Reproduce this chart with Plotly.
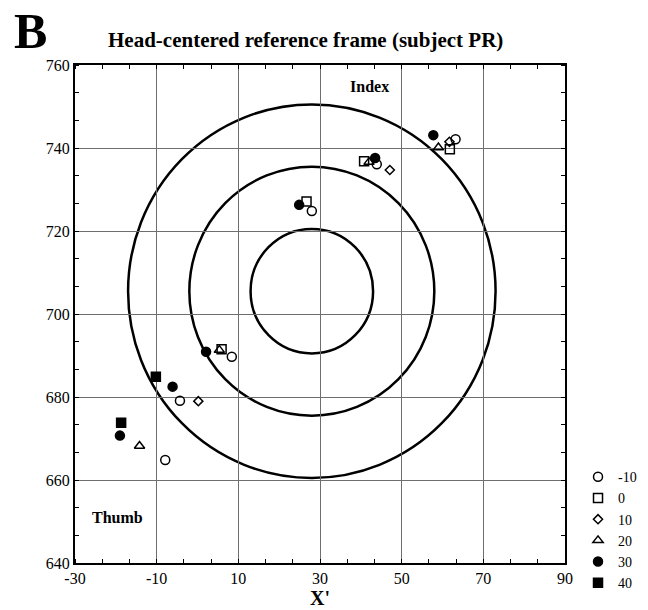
import plotly.graph_objects as go

# Finger-tip positions in the head-centred frame, one series per condition
conditions = ["-10", "0", "10", "20", "30", "40"]
symbols = ["circle-open", "square-open", "diamond-open", "triangle-up-open", "circle", "square"]
sizes = [9, 9, 7, 9, 9, 9]

x_m10 = [63.2, 43.9, 28.0, 8.4, -4.3, -7.9]
y_m10 = [742.1, 736.1, 724.8, 689.7, 679.1, 664.8]
x_0 = [61.8, 40.8, 26.7, 5.9]
y_0 = [739.7, 736.8, 727.1, 691.5]
x_10 = [61.7, 47.1, 0.2]
y_10 = [741.5, 734.7, 679.0]
x_20 = [59.0, 42.0, 5.35, -14.2]
y_20 = [740.1, 736.6, 691.3, 668.2]
x_30 = [57.75, 43.5, 24.9, 2.1, -6.1, -19.0]
y_30 = [743.1, 737.6, 726.3, 690.9, 682.5, 670.7]
x_40 = [-10.2, -18.7]
y_40 = [684.9, 673.8]

xs = [x_m10, x_0, x_10, x_20, x_30, x_40]
ys = [y_m10, y_0, y_10, y_20, y_30, y_40]

# Concentric reference circles
circle_center = (28.0, 705.5)
circle_radii = [15, 30, 45]

x_ticks = [-30, -10, 10, 30, 50, 70, 90]
y_ticks = [640, 660, 680, 700, 720, 740, 760]

SERIF = "Liberation Serif"

fig = go.Figure()
for name, sym, sz, xv, yv in zip(conditions, symbols, sizes, xs, ys):
    fig.add_trace(go.Scatter(
        x=xv, y=yv, mode="markers", name=name,
        marker=dict(symbol=sym, size=sz, color="black",
                    line=dict(color="black", width=1.5)),
    ))

cx, cy = circle_center
for r in circle_radii:
    fig.add_shape(type="circle", xref="x", yref="y",
                  x0=cx - r, x1=cx + r, y0=cy - r, y1=cy + r,
                  line=dict(color="black", width=2.5), layer="below")

axis_common = dict(
    showline=True, linecolor="black", linewidth=2, mirror="allticks",
    showgrid=True, gridcolor="#6e6e6e", gridwidth=1,
    zeroline=False, ticks="", automargin=False,
    tickfont=dict(family=SERIF, size=16, color="black"),
)

fig.update_xaxes(range=[-30, 90], tickvals=x_ticks, ticktext=[str(v) for v in x_ticks],
                 minor=dict(tick0=-30, dtick=20 / 3, ticks="inside", ticklen=4,
                            tickcolor="black", showgrid=False),
                 title=dict(text="<b>X'</b>", font=dict(family=SERIF, size=20, color="black"),
                            standoff=5),
                 **axis_common)
fig.update_yaxes(range=[640, 760], tickvals=y_ticks, ticktext=[str(v) for v in y_ticks],
                 minor=dict(tick0=640, dtick=20 / 3, ticks="inside", ticklen=4,
                            tickcolor="black", showgrid=False),
                 **axis_common)

fig.add_annotation(x=42.2, y=754.7, xref="x", yref="y", text="<b>Index</b>",
                   showarrow=False, font=dict(family=SERIF, size=16, color="black"))
fig.add_annotation(x=-19.5, y=651, xref="x", yref="y", text="<b>Thumb</b>",
                   showarrow=False, font=dict(family=SERIF, size=16, color="black"))
fig.add_annotation(x=-0.128, y=1.068, xref="paper", yref="paper", text="<b>B</b>",
                   showarrow=False, xanchor="left", yanchor="middle",
                   font=dict(family=SERIF, size=50, color="black"))
fig.add_annotation(x=0.47, y=1.05, xref="paper", yref="paper",
                   text="<b>Head-centered reference frame (subject PR)</b>",
                   showarrow=False, xanchor="center", yanchor="middle",
                   font=dict(family=SERIF, size=21, color="black"))

fig.update_layout(
    width=648, height=610,
    margin=dict(l=75, r=83, t=65, b=47, autoexpand=False),
    plot_bgcolor="white", paper_bgcolor="white",
    showlegend=True,
    legend=dict(xref="container", yref="container", x=0.892, y=0.244,
                xanchor="left", yanchor="top",
                font=dict(family=SERIF, size=14, color="black"),
                bgcolor="rgba(0,0,0,0)", itemwidth=30, tracegroupgap=0),
)

fig.write_html("out.html")
